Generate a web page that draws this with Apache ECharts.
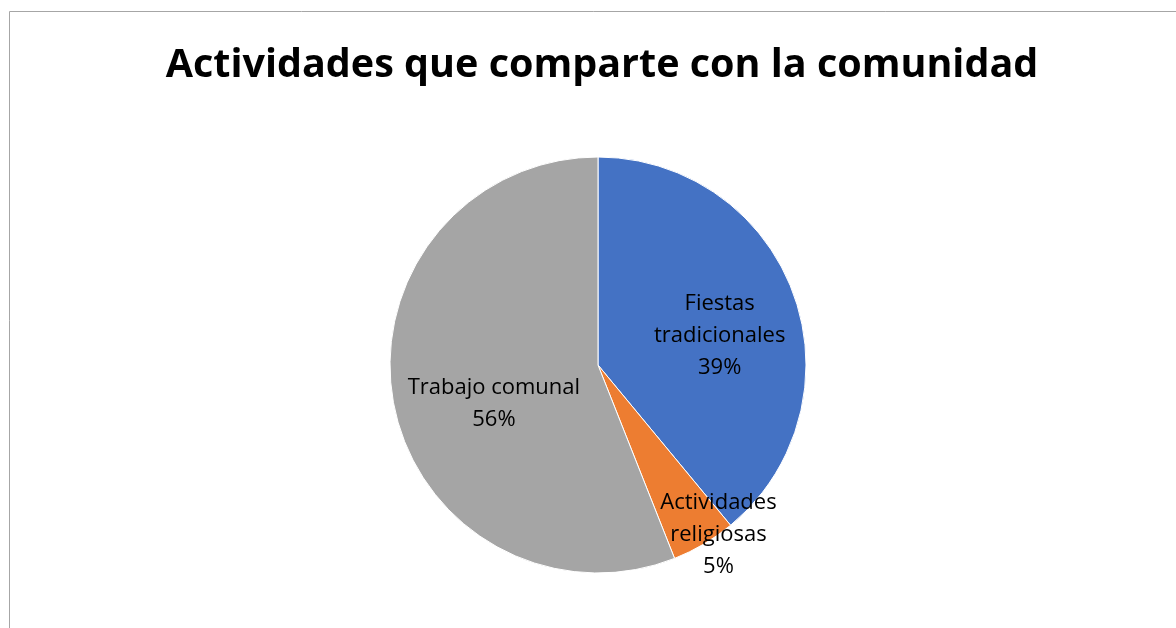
<!DOCTYPE html>
<html>
<head>
<meta charset="utf-8">
<script src="https://cdn.jsdelivr.net/npm/echarts@6/dist/echarts.min.js"></script>
<style>
  html, body { margin: 0; padding: 0; background: #fff; }
  #chart { width: 1176px; height: 628px; }
</style>
</head>
<body>
<div id="chart"></div>
<script>
const categories = ["Fiestas tradicionales", "Actividades religiosas", "Trabajo comunal"];
const labelNames = ["Fiestas\ntradicionales", "Actividades\nreligiosas", "Trabajo comunal"];
const values = [39, 5, 56];
const colors = ["#4472C4", "#ED7D31", "#A5A5A5"];
const labelOffsets = [[21, 7], [66, 78], [1, 19]];

const chart = echarts.init(document.getElementById("chart"));
chart.setOption({
  animation: false,
  title: {
    text: "Actividades que comparte con la comunidad",
    left: 597,
    top: 41,
    textAlign: "center",
    textStyle: {
      fontFamily: "Open Sans",
      fontWeight: "bold",
      fontSize: 39.5,
      color: "#000",
    },
  },
  graphic: [
    {
      type: "rect",
      shape: { x: 9.5, y: 11.5, width: 1300, height: 700 },
      style: { fill: "none", stroke: "#a6a6a6", lineWidth: 1 },
      silent: true,
    },
  ],
  series: [
    {
      type: "pie",
      center: [598, 365],
      radius: [0, 208],
      startAngle: 90,
      clockwise: true,
      itemStyle: { borderColor: "#fff", borderWidth: 1 },
      label: {
        show: true,
        position: "inside",
        fontFamily: "Open Sans",
        fontSize: 22,
        lineHeight: 32,
        color: "#000",
        align: "center",
        formatter: (p) => labelNames[p.dataIndex] + "\n" + p.value + "%",
      },
      labelLine: { show: false },
      data: categories.map((name, i) => ({
        name: name,
        value: values[i],
        itemStyle: { color: colors[i] },
        label: { offset: labelOffsets[i] },
      })),
    },
  ],
});
</script>
</body>
</html>
